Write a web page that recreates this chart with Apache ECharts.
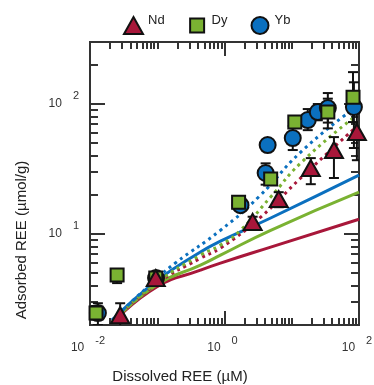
<!DOCTYPE html>
<html>
<head>
<meta charset="utf-8">
<script src="https://cdn.jsdelivr.net/npm/echarts@6/dist/echarts.min.js"></script>
<style>
  html, body { margin: 0; padding: 0; background: #fff; }
  #chart { width: 374px; height: 385px; }
</style>
</head>
<body>
<div id="chart"></div>
<script>
// ---- measured adsorption data (dissolved µM, adsorbed µmol/g) ----
const ybX  = [0.0131, 0.096, 1.73, 4.09, 4.38, 10.35, 17.3, 24.4, 34.4, 84];
const ybY  = [2.47, 4.59, 16.7, 29.5, 48.4, 54.8, 75.3, 86.8, 93.1, 94.8];
const ybLo = [2.0, null, null, 24, 44, 44.3, 63, 75, 72, 45.9];
const ybHi = [2.94, null, null, 35, 53, 67.7, 91.5, 100, 121.5, 147];

const dyX  = [0.0123, 0.0253, 0.095, 1.62, 4.86, 11.1, 34.4, 81.5];
const dyY  = [2.47, 4.84, 4.59, 17.6, 26.5, 72.7, 86.8, 113];
const dyLo = [2.2, 4.2, null, null, 24, 66, 65, 72.7];
const dyHi = [2.8, 5.3, null, null, 29, 80, 110, 176];

const ndX  = [0.0281, 0.095, 2.62, 6.4, 19.2, 42.4, 93];
const ndY  = [2.38, 4.59, 12.4, 18.6, 32.2, 44.3, 60.9];
const ndLo = [1.9, null, 11.3, 16.1, 24.2, 27, 37];
const ndHi = [2.94, null, 13.6, 21, 38.4, 55.7, 100];

// ---- model curves ----
const ybSolidX  = [0.0213, 0.0966, 0.439, 0.871, 4.86, 100];
const ybSolidY  = [2.18, 4.35, 7.28, 8.83, 13.3, 28.4];
const ybDotX    = [0.0213, 0.0966, 0.186, 0.871, 3.22, 13.6, 68.5];
const ybDotY    = [2.18, 4.51, 6.0, 10.7, 19.3, 42.7, 85.3];
const dySolidX  = [0.0213, 0.0966, 0.439, 0.871, 4.86, 100];
const dySolidY  = [2.10, 4.05, 5.78, 6.89, 10.7, 21.0];
const dyDotX    = [0.0213, 0.0966, 0.439, 0.871, 1.73, 4.86, 13.6, 81.3];
const dyDotY    = [2.10, 4.20, 6.89, 8.23, 10.7, 19.3, 35.2, 78.0];
const ndSolidX  = [0.0213, 0.0966, 0.439, 0.871, 4.86, 100];
const ndSolidY  = [2.07, 3.91, 5.28, 5.98, 7.94, 13.0];
const ndDotX    = [0.0213, 0.0966, 0.439, 0.871, 3.45, 13.6, 90.2];
const ndDotY    = [2.07, 4.12, 6.53, 7.80, 13.5, 27.0, 66.5];

// ---- axis ticks ----
const xMajor = [0.01, 1, 100];
const xMinor = [0.02,0.03,0.04,0.05,0.06,0.07,0.08,0.09,0.1,0.2,0.3,0.4,0.5,0.6,0.7,0.8,0.9,
                2,3,4,5,6,7,8,9,10,20,30,40,50,60,70,80,90];
const yMajor = [10, 100];
const yMinor = [3,4,5,6,7,8,9,20,30,40,50,60,70,80,90,200];

const RED = '#A8173A', GREEN = '#7AB232', BLUE = '#0B70BF';
const FONT = 'Liberation Sans, Arial, sans-serif';

const zip = (a, b) => a.map((v, i) => [v, b[i]]);
const errData = (xs, lo, hi) => xs.map((v, i) => [v, lo[i], hi[i]]).filter(d => d[1] != null);

function errSeries(data) {
  return {
    type: 'custom', silent: true, z: 3, clip: true,
    data: data,
    encode: { x: 0, y: [1, 2] },
    renderItem(params, api) {
      const x = api.value(0);
      const p1 = api.coord([x, api.value(1)]);
      const p2 = api.coord([x, api.value(2)]);
      const w = 5, st = { stroke: '#111', lineWidth: 2 };
      return { type: 'group', children: [
        { type: 'line', shape: { x1: p1[0], y1: p1[1], x2: p2[0], y2: p2[1] }, style: st },
        { type: 'line', shape: { x1: p1[0] - w, y1: p1[1], x2: p1[0] + w, y2: p1[1] }, style: st },
        { type: 'line', shape: { x1: p2[0] - w, y1: p2[1], x2: p2[0] + w, y2: p2[1] }, style: st }
      ]};
    }
  };
}

function lineSeries(xs, ys, color, dotted) {
  return {
    type: 'line', data: zip(xs, ys), showSymbol: false, smooth: true, silent: true, z: 2,
    lineStyle: { color: color, width: 3, type: dotted ? [3, 4] : 'solid', cap: 'butt' }
  };
}

// "10" with the exponent raised beside it
function supRich(rightPad) {
  return {
    b: { fontSize: 12, fontFamily: FONT, color: '#333', lineHeight: 19, verticalAlign: 'bottom' },
    s: { fontSize: 11, fontFamily: FONT, color: '#333', lineHeight: 12, verticalAlign: 'top', padding: [0, rightPad, 0, 11] }
  };
}
const expFmt = v => '{b|10}{s|' + Math.round(Math.log10(v)) + '}';

const axisLineStyle = { color: '#333', width: 2 };
function xAx(pos, vals, len, labels) {
  return {
    type: 'log', logBase: 10, min: 0.01, max: 100, position: pos, gridIndex: 0,
    axisLine: { show: true, onZero: false, lineStyle: axisLineStyle },
    axisTick: { show: true, inside: true, length: len, customValues: vals, lineStyle: { color: '#333', width: 2 } },
    axisLabel: labels ? { show: true, customValues: xMajor, formatter: expFmt, rich: supRich(4), margin: 10 } : { show: false },
    splitLine: { show: false }, minorTick: { show: false }
  };
}
function yAx(pos, vals, len, labels) {
  return {
    type: 'log', logBase: 10, min: 2, max: 300, position: pos, gridIndex: 0,
    axisLine: { show: true, onZero: false, lineStyle: axisLineStyle },
    axisTick: { show: true, inside: true, length: len, customValues: vals, lineStyle: { color: '#333', width: 2 } },
    axisLabel: labels ? { show: true, customValues: yMajor, formatter: expFmt, rich: supRich(0), margin: 11, padding: [0, 0, 8, 0] } : { show: false },
    splitLine: { show: false }, minorTick: { show: false }
  };
}

const chart = echarts.init(document.getElementById('chart'), null, { renderer: 'canvas' });
chart.setOption({
  animation: false,
  backgroundColor: '#fff',
  grid: { left: 90, right: 15, top: 42, bottom: 60, containLabel: false, outerBoundsMode: 'none' },
  xAxis: [
    xAx('bottom', xMajor, 14, true), xAx('bottom', xMinor, 7, false),
    xAx('top', xMajor, 14, false), xAx('top', xMinor, 7, false)
  ],
  yAxis: [
    yAx('left', yMajor, 15, true), yAx('left', yMinor, 8, false),
    yAx('right', yMajor, 15, false), yAx('right', yMinor, 8, false)
  ],
  legend: {
    data: [
      { name: 'Nd' },
      { name: 'Dy', icon: 'path://M0 0M17 17M1.5 1.5L15.5 1.5L15.5 15.5L1.5 15.5Z' },
      { name: 'Yb' }
    ],
    left: 123, top: 14, padding: 0, itemWidth: 19, itemHeight: 17, itemGap: 23,
    formatter: name => '{t|' + name + '}',
    textStyle: {
      fontFamily: FONT, fontSize: 13, color: '#222',
      rich: { t: { fontFamily: FONT, fontSize: 13, color: '#222', width: 18, padding: [0, 0, 10, 0] } }
    }
  },
  graphic: [
    { type: 'text', x: 180, y: 377,
      style: { text: 'Dissolved REE (µM)', font: '15px ' + FONT, fill: '#222', align: 'center', verticalAlign: 'middle' } },
    { type: 'text', rotation: Math.PI / 2, x: 22, y: 240,
      style: { text: 'Adsorbed REE (µmol/g)', font: '15px ' + FONT, fill: '#222', align: 'center', verticalAlign: 'middle' } }
  ],
  series: [
    lineSeries(ndSolidX, ndSolidY, RED, false),
    lineSeries(dySolidX, dySolidY, GREEN, false),
    lineSeries(ybSolidX, ybSolidY, BLUE, false),
    lineSeries(ndDotX, ndDotY, RED, true),
    lineSeries(dyDotX, dyDotY, GREEN, true),
    lineSeries(ybDotX, ybDotY, BLUE, true),
    errSeries(errData(ybX, ybLo, ybHi)),
    errSeries(errData(dyX, dyLo, dyHi)),
    errSeries(errData(ndX, ndLo, ndHi)),
    { name: 'Yb', type: 'scatter', data: zip(ybX, ybY), symbol: 'circle', symbolSize: 16, z: 4,
      itemStyle: { color: BLUE, borderColor: '#111', borderWidth: 2, opacity: 1 } },
    { name: 'Dy', type: 'scatter', data: zip(dyX, dyY), symbol: 'rect', symbolSize: 13, z: 5,
      itemStyle: { color: GREEN, borderColor: '#111', borderWidth: 2, opacity: 1 } },
    { name: 'Nd', type: 'scatter', data: zip(ndX, ndY), symbol: 'triangle', symbolSize: [18, 16], z: 6,
      itemStyle: { color: RED, borderColor: '#111', borderWidth: 2, opacity: 1 } }
  ]
});
</script>
</body>
</html>
